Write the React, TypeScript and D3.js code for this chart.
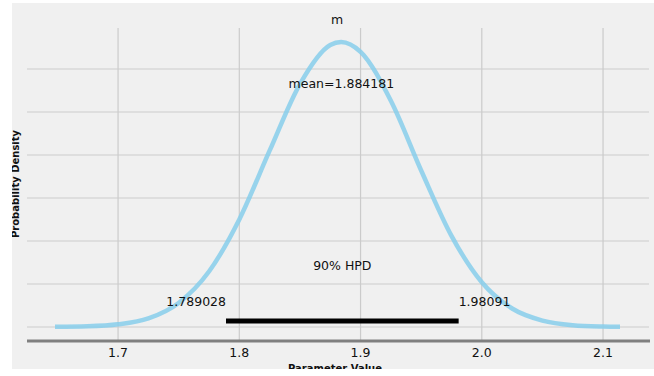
import React from "react";
import * as d3 from "d3";

// posterior density of m
const gridX = [1.648, 1.675, 1.7, 1.725, 1.75, 1.775, 1.8, 1.825, 1.85, 1.875, 1.884, 1.9, 1.925, 1.95, 1.975, 2.0, 2.025, 2.05, 2.075, 2.1, 2.114];
const density = [0.004, 0.016, 0.062, 0.2, 0.56, 1.29, 2.5, 4.1, 5.65, 6.56, 6.63, 6.4, 5.26, 3.64, 2.12, 1.04, 0.43, 0.15, 0.043, 0.011, 0.004];

const xTicks = [1.7, 1.8, 1.9, 2.0, 2.1];
const yGrid = [0, 1, 2, 3, 4, 5, 6];

const meanValue = 1.884181;
const hpd = [1.789028, 1.98091];
const hpdLabel = "90% HPD";
const title = "m";

const W = 654;
const H = 376;
const font = "'DejaVu Sans', sans-serif";

const App = () => {
  const x = d3.scaleLinear().domain([1.6249, 2.1379]).range([27, 649]);
  const y = d3.scaleLinear().domain([0, 1]).range([327, 284]);
  const top = 28;
  const bottom = 341;

  const line = d3
    .line<number>()
    .x((d, i) => x(gridX[i]))
    .y((d) => y(d))
    .curve(d3.curveMonotoneX);

  const hpdY = y(0.14);

  return (
    <svg
      width={W}
      height={H}
      style={{ position: "absolute", left: 0, top: 0, background: "#fff" }}
    >
      <defs>
        <clipPath id="fig">
          <rect x={12} y={3} width={W - 12} height={366} />
        </clipPath>
      </defs>
      <g clipPath="url(#fig)">
        <rect x={12} y={3} width={W - 12} height={366} fill="#f0f0f0" />

        {yGrid.map((g) => (
          <line key={"h" + g} x1={27} x2={649} y1={y(g)} y2={y(g)} stroke="#cbcbcb" strokeWidth={1.2} />
        ))}
        {xTicks.map((t) => (
          <line key={"v" + t} x1={x(t)} x2={x(t)} y1={top} y2={bottom} stroke="#cbcbcb" strokeWidth={1.2} />
        ))}

        <line x1={27} x2={650} y1={bottom} y2={bottom} stroke="#808080" strokeWidth={3} />

        <path d={line(density) || ""} fill="none" stroke="#87ceeb" strokeWidth={4.5} strokeOpacity={0.85} />

        <line x1={x(hpd[0])} x2={x(hpd[1])} y1={hpdY} y2={hpdY} stroke="#000" strokeWidth={5} />

        <g fontFamily={font} fontSize={12.5} fill="#111">
          {xTicks.map((t) => (
            <text key={"t" + t} x={x(t)} y={357} textAnchor="middle">
              {d3.format(".1f")(t)}
            </text>
          ))}
          <text x={337} y={24} textAnchor="middle">{title}</text>
          <text x={x(meanValue)} y={88} textAnchor="middle">
            {"mean=" + meanValue}
          </text>
          <text x={(x(hpd[0]) + x(hpd[1])) / 2} y={270} textAnchor="middle">
            {hpdLabel}
          </text>
          <text x={x(hpd[0])} y={306} textAnchor="end">{String(hpd[0])}</text>
          <text x={x(hpd[1])} y={306} textAnchor="start">{String(hpd[1])}</text>
        </g>

        <text
          x={335}
          y={372}
          textAnchor="middle"
          fontFamily={font}
          fontSize={10}
          fontWeight="bold"
          fill="#111"
        >
          Parameter Value
        </text>
        <text
          transform="translate(19,184) rotate(-90)"
          textAnchor="middle"
          fontFamily={font}
          fontSize={10}
          fontWeight="bold"
          fill="#111"
        >
          Probability Density
        </text>
      </g>
    </svg>
  );
};

export default App;
